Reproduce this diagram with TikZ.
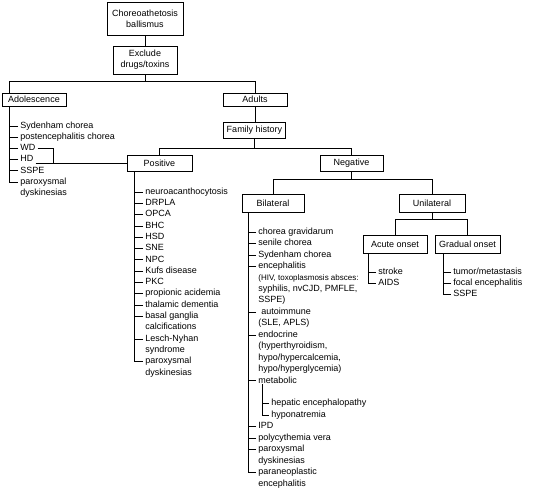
\documentclass[tikz,border=0pt]{standalone}
\usepackage{fontspec}
\setmainfont{Liberation Sans}
\usetikzlibrary{positioning, calc}

\newcommand{\hivfont}{\fontsize{8}{9}\selectfont}

\begin{document}
\begin{tikzpicture}[
    x=1pt, y=-1pt,
    line width=0.75pt,
    every node/.style={font=\fontsize{9}{11}\selectfont},
    box/.style={draw, align=center, inner sep=1pt},
    item/.style={anchor=west, inner sep=2pt, text height=6.5pt, text depth=2pt},
]
\useasboundingbox (0,0) rectangle (533,502);

% decision boxes
\node[box, minimum width=76pt, minimum height=33pt] (start) at (145,18.5) {Choreoathetosis\\ballismus};
\node[box, minimum width=64pt, minimum height=28pt] (exclude) at (145,60) {Exclude\\drugs/toxins};
\node[box, minimum width=64pt, minimum height=13pt] (adol) at (34,99.5) {Adolescence};
\node[box, minimum width=64pt, minimum height=13pt] (adults) at (255,99.5) {Adults};
\node[box, minimum width=62pt, minimum height=16pt] (family) at (254.5,130) {Family history};
\node[box, minimum width=65pt, minimum height=16pt] (pos) at (159.5,163) {Positive};
\node[box, minimum width=63pt, minimum height=16pt] (neg) at (351.5,163) {Negative};
\node[box, minimum width=62pt, minimum height=18pt] (bilat) at (273,203) {Bilateral};
\node[box, minimum width=66pt, minimum height=18pt] (unilat) at (432,203) {Unilateral};
\node[box, minimum width=64pt, minimum height=18pt] (acute) at (395,244) {Acute onset};
\node[box, minimum width=65pt, minimum height=18pt] (gradual) at (467.5,244) {Gradual onset};

% tree connectors
\draw (start) -- (exclude);
\draw (exclude.south) -- ++(0,7) coordinate (split1);
\draw (split1) -| ([xshift=8pt]adol.north west);
\draw (split1) -| (adults.north);
\draw (adults.south) -- (adults.south |- family.north);
\draw (family.south) -- ++(0,10) coordinate (split2);
\draw (split2) -| (pos.north);
\draw (split2) -| (neg.north);
\draw (neg.south) -- ++(0,8) coordinate (split3);
\draw (split3) -| (bilat.north);
\draw (split3) -| (unilat.north);
\draw (unilat.south) -- ++(0,7) coordinate (split4);
\draw (split4) -| (acute.north);
\draw (split4) -| (gradual.north);

% adolescence
\foreach \t [count=\i from 0] in {Sydenham chorea, postencephalitis chorea, WD, HD, SSPE, paroxysmal, dyskinesias}
    \node[item] (a\i) at (18, 126+\i*11.2) {\t};
\draw ([xshift=8pt]adol.south west) |- (a5.west);
\foreach \i in {0,...,4}
    \draw (a\i.west) -- ++(-8,0);
\draw (a2.east) -- ++(16,0) |- (pos.west);
\draw (a3.east |- pos.west) -- (pos.west);

% positive family history
\foreach \t [count=\i from 0] in {neuroacanthocytosis, DRPLA, OPCA, BHC, HSD, SNE, NPC, Kufs disease, PKC, propionic acidemia, thalamic dementia, basal ganglia, calcifications, Lesch-Nyhan, syndrome, paroxysmal, dyskinesias}
    \node[item] (p\i) at (143, 192+\i*11.3) {\t};
\draw ([xshift=8pt]pos.south west) |- (p15.west);
\foreach \i in {0,...,11,13}
    \draw (p\i.west) -- ++(-8,0);

% bilateral
\foreach \t [count=\i from 0] in {chorea gravidarum, senile chorea, Sydenham chorea, encephalitis, {\hivfont (HIV, toxoplasmosis absces:}, {syphilis, nvCJD, PMFLE,}, SSPE), {\hspace{3pt}autoimmune}, {(SLE, APLS)}, endocrine, {(hyperthyroidism,}, {hypo/hypercalcemia,}, hypo/hyperglycemia), metabolic}
    \node[item] (b\i) at (256, 232+\i*11.45) {\t};
\foreach \t [count=\i from 17] in {IPD, polycythemia vera, paroxysmal, dyskinesias, paraneoplastic, encephalitis}
    \node[item] (b\i) at (256, 232+\i*11.45) {\t};
\draw ([xshift=7pt]bilat.south west) |- (b21.west);
\foreach \i in {0,1,2,3,7,9,13,17,18,19}
    \draw (b\i.west) -- ++(-7,0);
\node[item] (m0) at (269, 232+15*11.45) {hepatic encephalopathy};
\node[item] (m1) at (269, 232+16*11.45) {hyponatremia};
\draw ([xshift=6pt,yshift=3pt]b13.south west) |- (m1.west);
\draw (m0.west) -- ++(-7,0);

% unilateral
\node[item] (c0) at (376, 272.7) {stroke};
\node[item] (c1) at (376, 283.5) {AIDS};
\draw ([xshift=6pt]acute.south west) |- (c1.west);
\draw (c0.west) -- ++(-7,0);
\foreach \t [count=\i from 0] in {tumor/metastasis, focal encephalitis, SSPE}
    \node[item] (g\i) at (451, 272.7+\i*10.8) {\t};
\draw ([xshift=9pt]gradual.south west) |- (g2.west);
\foreach \i in {0,1}
    \draw (g\i.west) -- ++(-7,0);
\end{tikzpicture}
\end{document}
